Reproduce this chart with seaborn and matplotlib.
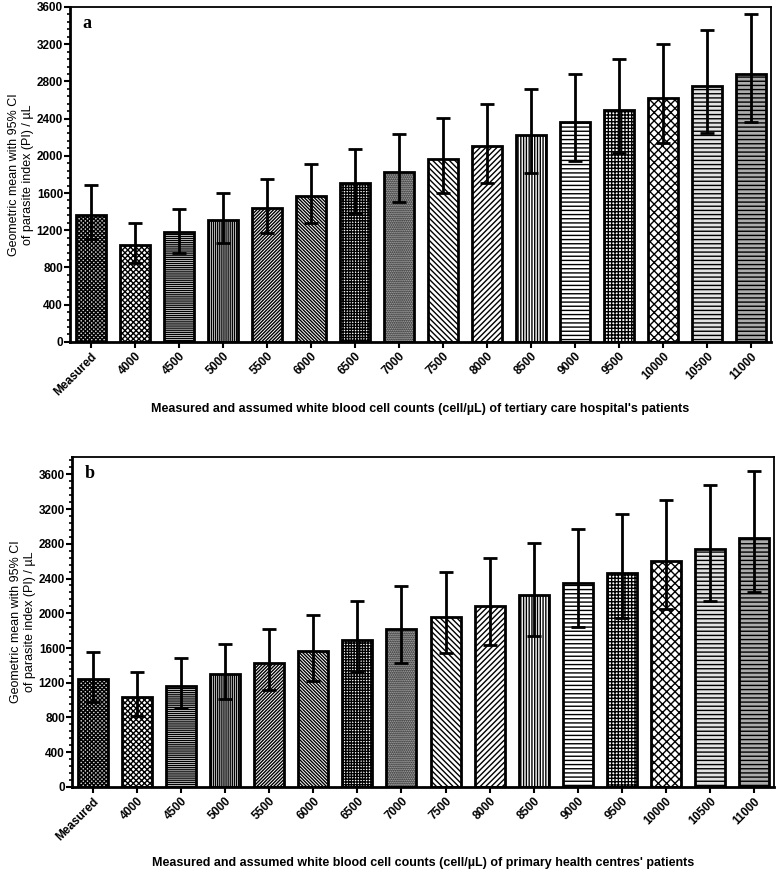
import matplotlib
matplotlib.use('Agg')
import matplotlib.pyplot as plt
import seaborn as sns
import numpy as np
from matplotlib.ticker import MultipleLocator

categories = ['Measured', '4000', '4500', '5000', '5500', '6000', '6500', '7000',
              '7500', '8000', '8500', '9000', '9500', '10000', '10500', '11000']

# panel a: tertiary care hospital
a_mean = [1365, 1041, 1177, 1306, 1436, 1568, 1705, 1830, 1967, 2100, 2225, 2358, 2494, 2620, 2753, 2882]
a_low = [1102, 843, 958, 1066, 1174, 1281, 1389, 1500, 1604, 1712, 1820, 1945, 2035, 2135, 2250, 2362]
a_high = [1687, 1281, 1432, 1597, 1751, 1917, 2074, 2236, 2401, 2555, 2717, 2878, 3040, 3201, 3356, 3521]

# panel b: primary health centres
b_mean = [1240, 1041, 1168, 1298, 1428, 1562, 1692, 1818, 1952, 2086, 2209, 2343, 2469, 2603, 2737, 2863]
b_low = [976, 815, 907, 1018, 1118, 1225, 1321, 1428, 1547, 1635, 1738, 1845, 1941, 2044, 2144, 2243]
b_high = [1554, 1321, 1481, 1650, 1814, 1983, 2144, 2316, 2477, 2641, 2806, 2971, 3139, 3300, 3472, 3637]

hatches = ['xxxxxxxx', 'xxxxxx', '--------', '||||||||', '//////////', '\\' * 10,
           '++++++', '........', '\\' * 6, '//////', '||||||', '----', '+++++', 'xxxx',
           '----', '----']
faces = ['#d0d0d0', 'white', 'white', 'white', 'white', 'white', 'white', '#c8c8c8',
         'white', 'white', 'white', 'white', 'white', 'white', '#e2e2e2', '#acacac']

sns.set_style('ticks')
plt.rcParams['font.family'] = ['Liberation Sans', 'DejaVu Sans']
plt.rcParams['hatch.linewidth'] = 1.0
for key in ['text.color', 'axes.labelcolor', 'xtick.color', 'ytick.color', 'axes.edgecolor']:
    plt.rcParams[key] = 'black'

fig = plt.figure(figsize=(7.78, 8.72), dpi=100)
ax_a = fig.add_axes([0.090, 0.608, 0.901, 0.384])
ax_b = fig.add_axes([0.0925, 0.0975, 0.902, 0.3785])

panels = [
    (ax_a, a_mean, a_low, a_high, 3600, 'a', 4,
     "Measured and assumed white blood cell counts (cell/\u00b5L) of tertiary care hospital's patients"),
    (ax_b, b_mean, b_low, b_high, 3800, 'b', 10,
     "Measured and assumed white blood cell counts (cell/\u00b5L) of primary health centres' patients"),
]

for ax, mean, low, high, top, letter, pad, xlab in panels:
    sns.barplot(x=categories, y=mean, ax=ax, color='white', edgecolor='black',
                linewidth=2, errorbar=None, width=0.68, saturation=1)
    for p, h, fc in zip(ax.patches, hatches, faces):
        p.set_hatch(h)
        p.set_facecolor(fc)
    centers = [p.get_x() + p.get_width() / 2 for p in ax.patches]
    mean_arr = np.array(mean)
    yerr = [mean_arr - np.array(low), np.array(high) - mean_arr]
    ax.errorbar(centers, mean_arr, yerr=yerr, fmt='none', ecolor='black',
                elinewidth=2, capsize=5, capthick=2, zorder=5)

    ax.set_xlim(-0.48, 15.45)
    ax.set_ylim(0, top)
    ax.set_yticks(np.arange(0, 3601, 400))
    ax.yaxis.set_minor_locator(MultipleLocator(80))
    ax.tick_params(axis='y', which='major', length=4, width=1.5, labelsize=8.5, pad=1)
    ax.tick_params(axis='y', which='minor', length=2, width=1.2)
    ax.tick_params(axis='x', which='major', length=4, width=1.5, labelsize=8.5, pad=2)
    for lab in ax.get_yticklabels():
        lab.set_fontweight('bold')
    ax.set_xticks(range(len(categories)))
    ax.set_xticklabels(categories, rotation=45, ha='right', rotation_mode='anchor',
                       fontweight='bold')

    for side in ['left', 'bottom']:
        ax.spines[side].set_linewidth(2)
    for side in ['top', 'right']:
        ax.spines[side].set_linewidth(1.3)

    ax.set_ylabel('Geometric mean with 95% CI\nof parasite index (PI) / \u00b5L', fontsize=9,
                  labelpad=2)
    ax.set_xlabel(xlab, fontsize=9, fontweight='bold', labelpad=pad)
    ax.text(0.018, 0.975, letter, transform=ax.transAxes, ha='left', va='top',
            fontsize=13, fontweight='bold', family=['Liberation Serif', 'DejaVu Serif'])

fig.savefig('out.png', dpi=100)
